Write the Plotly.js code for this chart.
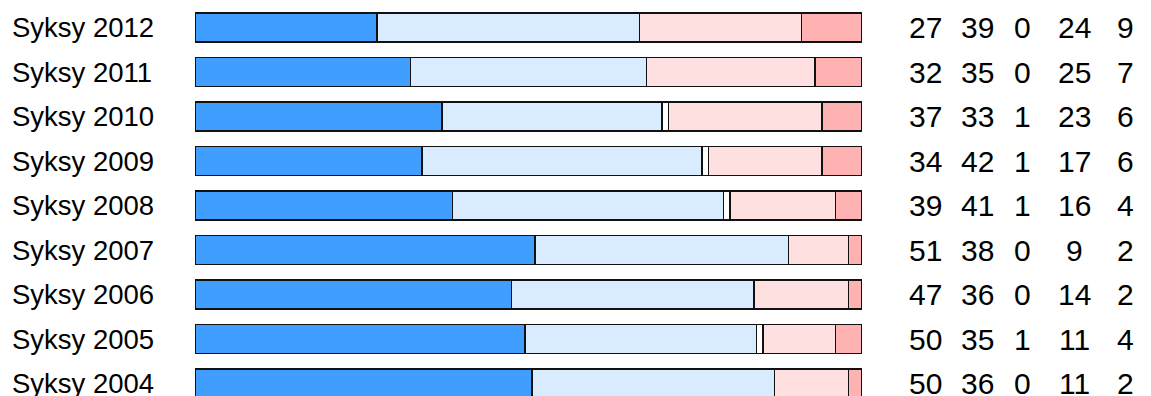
<!DOCTYPE html>
<html>
<head>
<meta charset="utf-8">
<script src="https://cdn.plot.ly/plotly-3.0.1.min.js"></script>
<style>html,body{margin:0;padding:0;background:#fff;}#chart{width:1151px;height:396px;}</style>
</head>
<body>
<div id="chart"></div>
<script>
const categories = ['Syksy 2012','Syksy 2011','Syksy 2010','Syksy 2009','Syksy 2008','Syksy 2007','Syksy 2006','Syksy 2005','Syksy 2004'];
const s1 = [27,32,37,34,39,51,47,50,50];
const s2 = [39,35,33,42,41,38,36,35,36];
const s3 = [0,0,1,1,1,0,0,1,0];
const s4 = [24,25,23,17,16,9,14,11,11];
const s5 = [9,7,6,6,4,2,2,4,2];
const series = [s1,s2,s3,s4,s5];
const colors = ['#409EFF','#D9ECFF','#FFFFFF','#FFE0E0','#FFB2B2'];

const W = 1151;
const traces = series.map((vals,i)=>({
  type:'bar', orientation:'h', y:categories, x:vals,
  marker:{color:colors[i], line:{color:'#111', width:1.5}},
  hoverinfo:'skip', showlegend:false
}));

const numCols = [925, 977, 1022, 1074, 1125];
const annotations = [];
categories.forEach((c,r)=>{
  annotations.push({xref:'paper', yref:'y', x:10/W, y:c, xanchor:'left', yanchor:'middle',
    text:c, showarrow:false, font:{family:'Liberation Sans, Arial, sans-serif', size:27.5, color:'#000'}});
  series.forEach((vals,i)=>{
    annotations.push({xref:'paper', yref:'y', x:numCols[i]/W, y:c, xanchor:'center', yanchor:'middle',
      text:String(vals[r]), showarrow:false, font:{family:'Liberation Sans, Arial, sans-serif', size:30, color:'#000'}});
  });
});

const layout = {
  width:W, height:396, margin:{l:0,r:0,t:0,b:0},
  paper_bgcolor:'#fff', plot_bgcolor:'#fff',
  barmode:'stack', barnorm:'percent', bargap:0.348,
  xaxis:{domain:[195/W, 862/W], range:[0,100], visible:false, fixedrange:true},
  yaxis:{type:'category', categoryarray:categories, categoryorder:'array',
    range:[8.281,-0.618], visible:false, fixedrange:true},
  annotations:annotations
};
Plotly.newPlot('chart', traces, layout, {displayModeBar:false, staticPlot:true});
</script>
</body>
</html>
